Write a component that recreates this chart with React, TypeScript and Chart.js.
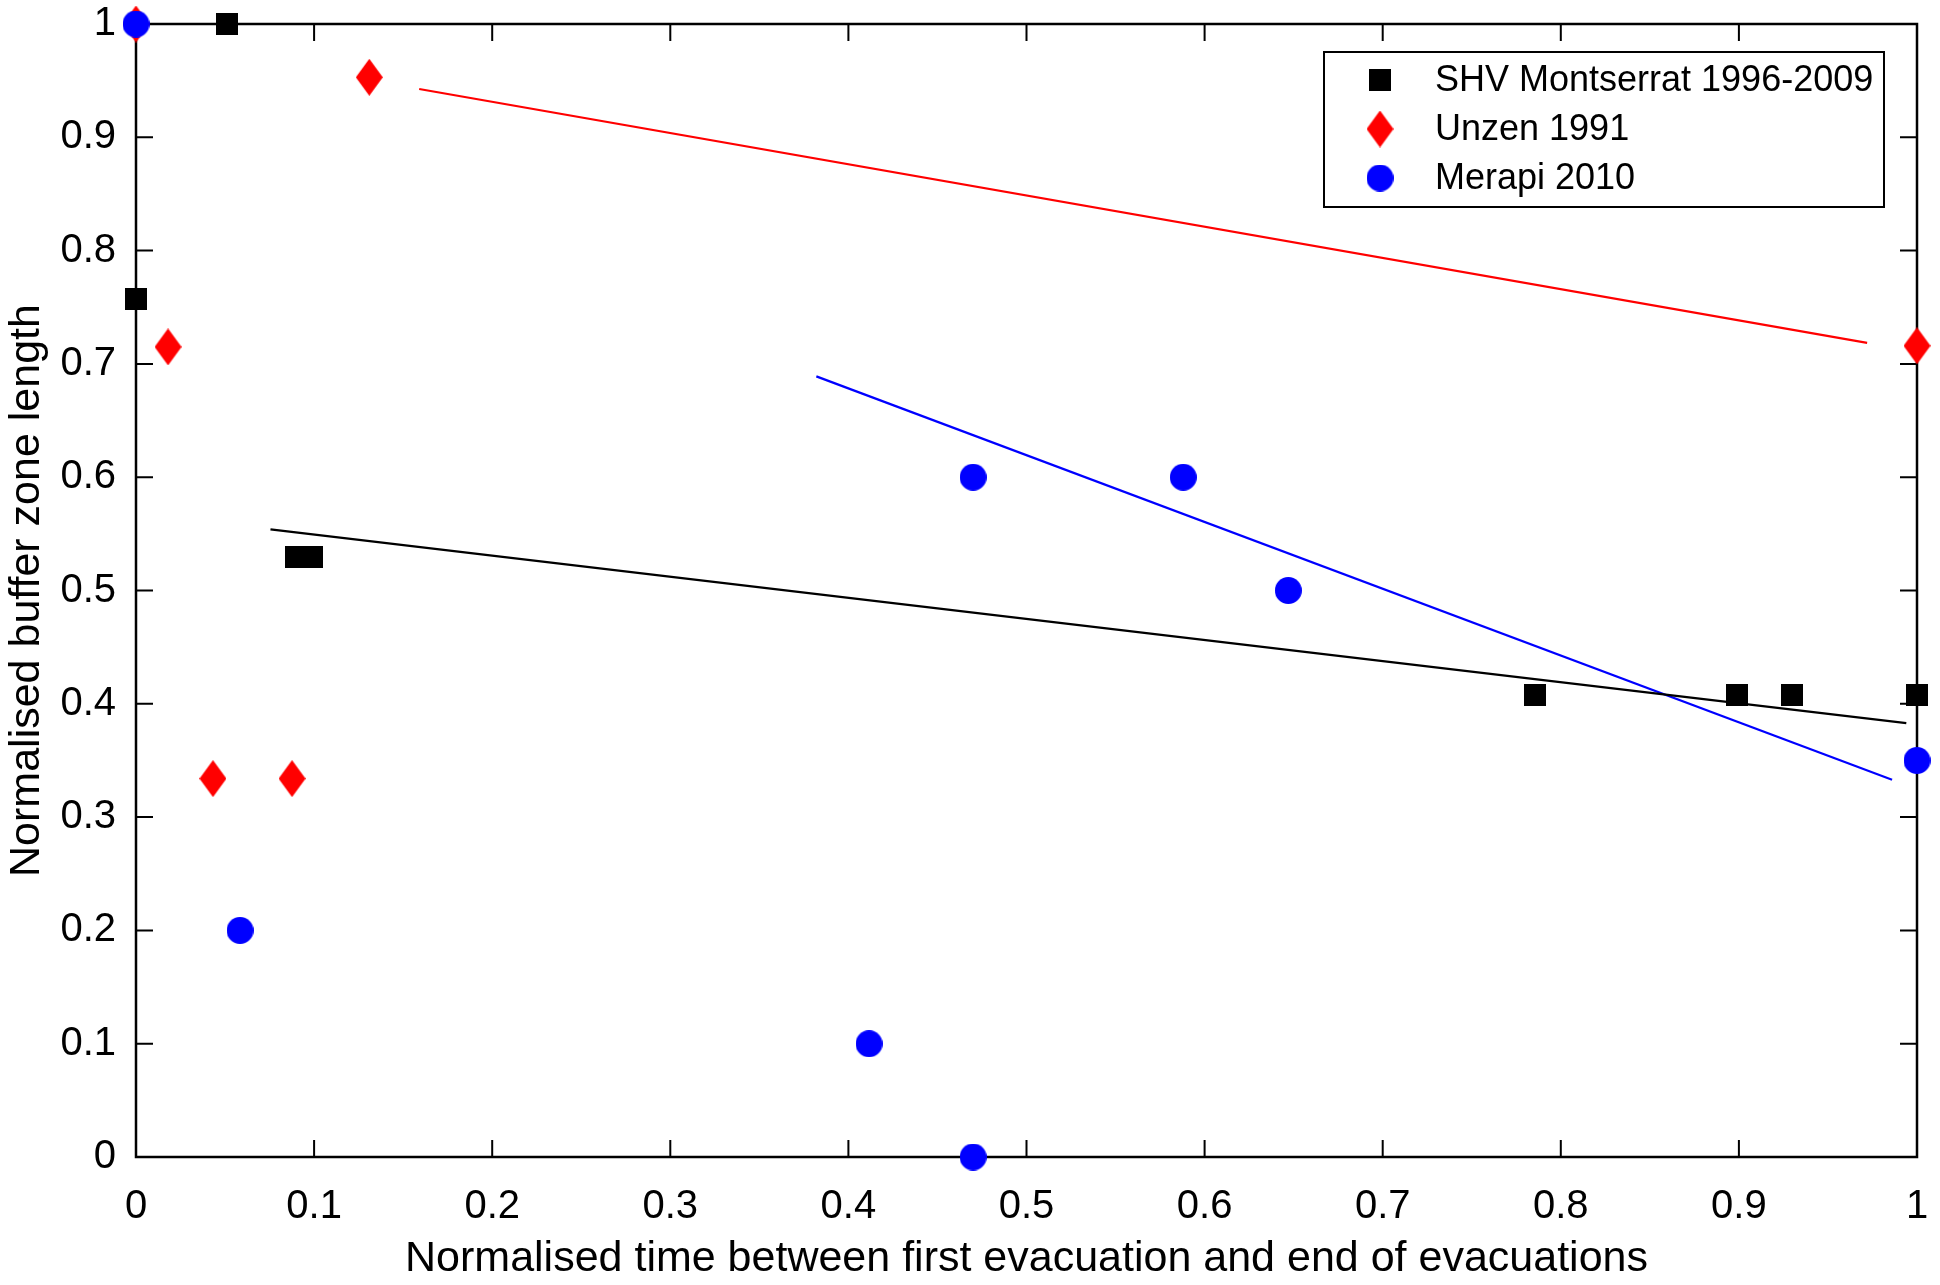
import React, { useEffect, useRef } from 'react';
import { Chart, registerables } from 'chart.js';

Chart.register(...registerables);

// observed points
const montserratX = [0, 0.051, 0.0898, 0.0988, 0.7855, 0.899, 0.93, 1];
const montserratY = [0.757, 1, 0.53, 0.53, 0.408, 0.408, 0.408, 0.408];
const unzenX = [0, 0.018, 0.0432, 0.0876, 0.131, 1];
const unzenY = [1, 0.715, 0.334, 0.334, 0.953, 0.716];
const merapiX = [0, 0.0584, 0.4116, 0.47, 0.47, 0.588, 0.647, 1];
const merapiY = [1, 0.2, 0.1, 0, 0.6, 0.6, 0.5, 0.35];

// linear fits (start / end)
const montserratFitX = [0.0755, 0.994];
const montserratFitY = [0.554, 0.383];
const unzenFitX = [0.159, 0.972];
const unzenFitY = [0.9426, 0.7185];
const merapiFitX = [0.382, 0.986];
const merapiFitY = [0.689, 0.333];

const seriesLabels = ['SHV Montserrat 1996-2009', 'Unzen 1991', 'Merapi 2010'];
const xTicks = [0, 0.1, 0.2, 0.3, 0.4, 0.5, 0.6, 0.7, 0.8, 0.9, 1];
const yTicks = [0, 0.1, 0.2, 0.3, 0.4, 0.5, 0.6, 0.7, 0.8, 0.9, 1];
const xTitle = 'Normalised time between first evacuation and end of evacuations';
const yTitle = 'Normalised buffer zone length';

const FONT = '"Liberation Sans", Arial, Helvetica, sans-serif';

const toPoints = (xs: number[], ys: number[]) => xs.map((x, i) => ({ x, y: ys[i] }));

function makeMarker(shape: string, color: string, w: number, h: number) {
  const c = document.createElement('canvas');
  c.width = w;
  c.height = h;
  const g = c.getContext('2d')!;
  g.fillStyle = color;
  g.beginPath();
  if (shape === 'square') {
    g.rect(0, 0, w, h);
  } else if (shape === 'diamond') {
    g.moveTo(w / 2, 0);
    g.lineTo(w, h / 2);
    g.lineTo(w / 2, h);
    g.lineTo(0, h / 2);
    g.closePath();
  } else {
    g.ellipse(w / 2, h / 2, w / 2, h / 2, 0, 0, Math.PI * 2);
  }
  g.fill();
  return c;
}

// box with inward ticks on all four sides
const framePlugin = {
  id: 'frame',
  beforeDatasetsDraw(chart: any) {
    const { ctx, chartArea: a, scales } = chart;
    const len = 17;
    ctx.save();
    ctx.strokeStyle = '#000';
    ctx.lineWidth = 2;
    ctx.beginPath();
    xTicks.forEach((v) => {
      const px = scales.x.getPixelForValue(v);
      ctx.moveTo(px, a.bottom);
      ctx.lineTo(px, a.bottom - len);
      ctx.moveTo(px, a.top);
      ctx.lineTo(px, a.top + len);
    });
    yTicks.forEach((v) => {
      const py = scales.y.getPixelForValue(v);
      ctx.moveTo(a.left, py);
      ctx.lineTo(a.left + len, py);
      ctx.moveTo(a.right, py);
      ctx.lineTo(a.right - len, py);
    });
    ctx.stroke();
    ctx.lineWidth = 2.5;
    ctx.strokeRect(a.left, a.top, a.right - a.left, a.bottom - a.top);
    ctx.restore();
  },
};

// legend box in the upper right corner
const legendPlugin = {
  id: 'boxLegend',
  afterDatasetsDraw(chart: any) {
    const { ctx, chartArea: a } = chart;
    const w = 560;
    const h = 155;
    const left = a.right - 33 - w;
    const top = a.top + 28;
    ctx.save();
    ctx.fillStyle = '#fff';
    ctx.fillRect(left, top, w, h);
    ctx.strokeStyle = '#000';
    ctx.lineWidth = 2;
    ctx.strokeRect(left, top, w, h);
    ctx.font = `36px ${FONT}`;
    ctx.fillStyle = '#000';
    ctx.textBaseline = 'middle';
    ctx.textAlign = 'left';
    const items = chart.data.datasets.filter((d: any) => d.inLegend);
    items.forEach((d: any, i: number) => {
      const cy = top + 28 + i * 49;
      const img = d.pointStyle as HTMLCanvasElement;
      ctx.drawImage(img, left + 56 - img.width / 2, cy - img.height / 2);
      ctx.fillText(d.label, left + 111, cy + 1);
    });
    ctx.restore();
  },
};

const App = () => {
  const canvasRef = useRef<HTMLCanvasElement>(null);
  const chartRef = useRef<Chart | null>(null);

  useEffect(() => {
    if (!canvasRef.current) return;

    const square = makeMarker('square', '#000000', 22, 22);
    const diamond = makeMarker('diamond', '#ff0000', 27, 37);
    const circle = makeMarker('circle', '#0000ff', 27, 27);

    const fitLine = (xs: number[], ys: number[], color: string) => ({
      type: 'line' as const,
      data: toPoints(xs, ys),
      showLine: true,
      borderColor: color,
      borderWidth: 2.2,
      pointRadius: 0,
      fill: false,
      order: 5,
    });

    const config: any = {
      type: 'scatter',
      data: {
        datasets: [
          {
            label: seriesLabels[0],
            data: toPoints(montserratX, montserratY),
            pointStyle: square,
            order: 2,
            clip: false,
            inLegend: true,
          },
          {
            label: seriesLabels[1],
            data: toPoints(unzenX, unzenY),
            pointStyle: diamond,
            order: 1,
            clip: false,
            inLegend: true,
          },
          {
            label: seriesLabels[2],
            data: toPoints(merapiX, merapiY),
            pointStyle: circle,
            order: 0,
            clip: false,
            inLegend: true,
          },
          fitLine(montserratFitX, montserratFitY, '#000000'),
          fitLine(unzenFitX, unzenFitY, '#ff0000'),
          fitLine(merapiFitX, merapiFitY, '#0000ff'),
        ],
      },
      options: {
        responsive: false,
        animation: false,
        devicePixelRatio: 1,
        layout: { padding: { top: 24, right: 23, left: 0, bottom: 0 } },
        plugins: {
          legend: { display: false },
          tooltip: { enabled: false },
        },
        scales: {
          x: {
            type: 'linear',
            min: 0,
            max: 1,
            afterBuildTicks: (s: any) => {
              s.ticks = xTicks.map((v) => ({ value: v }));
            },
            afterFit: (s: any) => {
              s.height = 128;
              s.paddingLeft = 0;
              s.paddingRight = 0;
            },
            grid: { display: false },
            border: { display: false },
            ticks: {
              color: '#000',
              padding: 18,
              font: { family: FONT, size: 40 },
              callback: (v: any) => String(v),
            },
            title: {
              display: true,
              text: xTitle,
              color: '#000',
              font: { family: FONT, size: 43 },
              padding: { top: 0, bottom: 0 },
            },
          },
          y: {
            type: 'linear',
            min: 0,
            max: 1,
            afterBuildTicks: (s: any) => {
              s.ticks = yTicks.map((v) => ({ value: v }));
            },
            afterFit: (s: any) => {
              s.width = 136;
              s.paddingTop = 0;
              s.paddingBottom = 0;
            },
            grid: { display: false },
            border: { display: false },
            ticks: {
              color: '#000',
              padding: 12,
              font: { family: FONT, size: 40 },
              callback: (v: any) => String(v),
            },
            title: {
              display: true,
              text: yTitle,
              color: '#000',
              font: { family: FONT, size: 43 },
              padding: { top: 1, bottom: 0 },
            },
          },
        },
      },
      plugins: [framePlugin, legendPlugin],
    };

    if (chartRef.current) chartRef.current.destroy();
    chartRef.current = new Chart(canvasRef.current, config);

    return () => {
      if (chartRef.current) {
        chartRef.current.destroy();
        chartRef.current = null;
      }
    };
  }, []);

  return (
    <div style={{ position: 'fixed', left: 0, top: 0, width: 1940, height: 1285, background: '#fff' }}>
      <canvas ref={canvasRef} width={1940} height={1285} />
    </div>
  );
};

export default App;
